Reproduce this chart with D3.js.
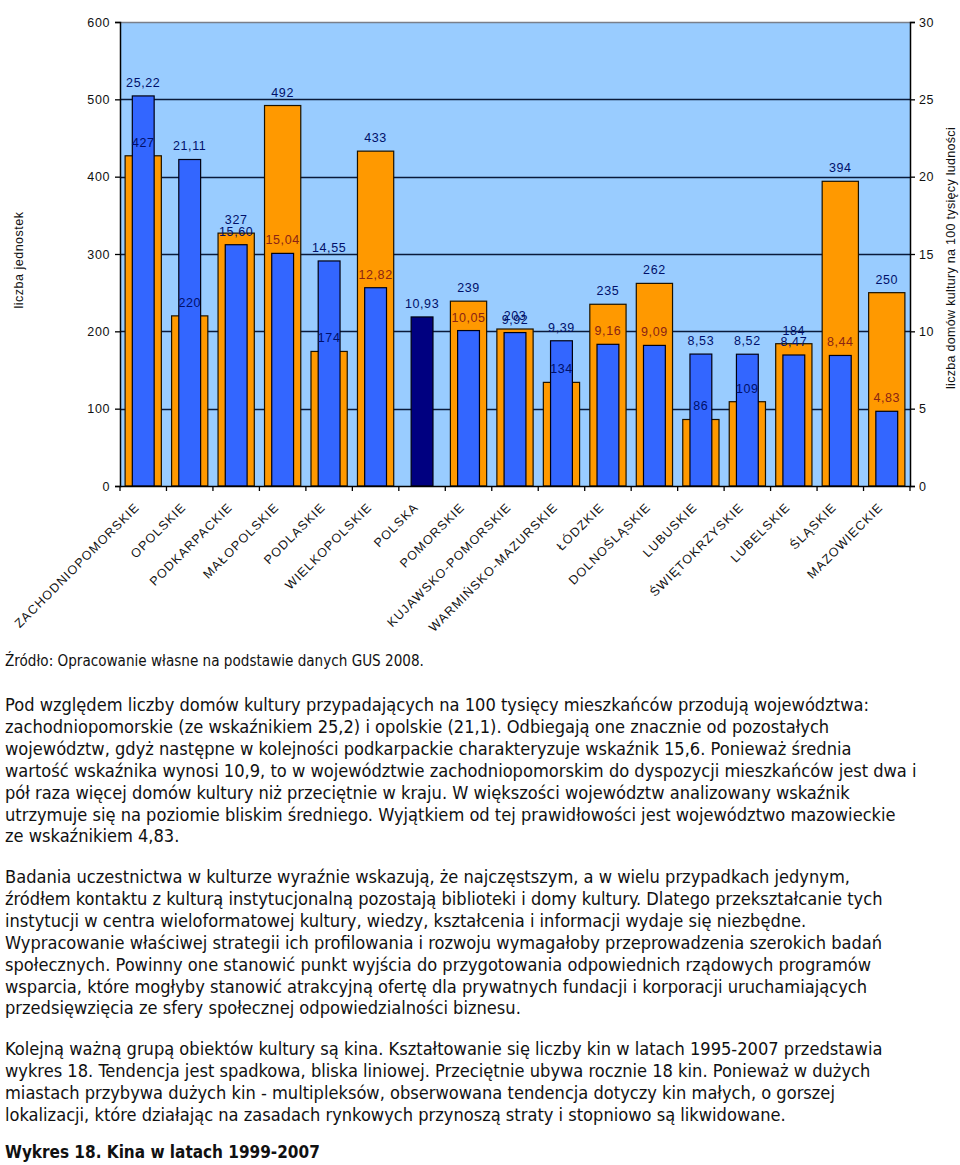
<!DOCTYPE html>
<html>
<head>
<meta charset="utf-8">
<script src="https://cdn.jsdelivr.net/npm/d3@7"></script>
<style>
  html, body { margin: 0; padding: 0; background: #fff; }
  svg { display: block; }
</style>
</head>
<body>
<svg id="chart" width="960" height="1165"></svg>
<script>
// ---------- DATA ----------
const categories = ["ZACHODNIOPOMORSKIE","OPOLSKIE","PODKARPACKIE","MAŁOPOLSKIE","PODLASKIE","WIELKOPOLSKIE","POLSKA","POMORSKIE","KUJAWSKO-POMORSKIE","WARMIŃSKO-MAZURSKIE","ŁÓDZKIE","DOLNOŚLĄSKIE","LUBUSKIE","ŚWIĘTOKRZYSKIE","LUBELSKIE","ŚLĄSKIE","MAZOWIECKIE"];
const unitCounts = [427, 220, 327, 492, 174, 433, null, 239, 203, 134, 235, 262, 86, 109, 184, 394, 250];
const perCapita = [25.22, 21.11, 15.60, 15.04, 14.55, 12.82, 10.93, 10.05, 9.92, 9.39, 9.16, 9.09, 8.53, 8.52, 8.47, 8.44, 4.83];
const leftTicks = [0, 100, 200, 300, 400, 500, 600];
const rightTicks = [0, 5, 10, 15, 20, 25, 30];
const leftTitle = "liczba jednostek";
const rightTitle = "liczba domów kultury na 100 tysięcy ludności";

const sourceLine = "Źródło: Opracowanie własne na podstawie danych GUS 2008.";
const para1 = [
  "Pod względem liczby domów kultury przypadających na 100 tysięcy mieszkańców przodują województwa:",
  "zachodniopomorskie (ze wskaźnikiem 25,2) i opolskie (21,1). Odbiegają one znacznie od pozostałych",
  "województw, gdyż następne w kolejności podkarpackie charakteryzuje wskaźnik 15,6. Ponieważ średnia",
  "wartość wskaźnika wynosi 10,9, to w województwie zachodniopomorskim do dyspozycji mieszkańców jest dwa i",
  "pół raza więcej domów kultury niż przeciętnie w kraju. W większości województw analizowany wskaźnik",
  "utrzymuje się na poziomie bliskim średniego. Wyjątkiem od tej prawidłowości jest województwo mazowieckie",
  "ze wskaźnikiem 4,83."
];
const para2 = [
  "Badania uczestnictwa w kulturze wyraźnie wskazują, że najczęstszym, a w wielu przypadkach jedynym,",
  "źródłem kontaktu z kulturą instytucjonalną pozostają biblioteki i domy kultury. Dlatego przekształcanie tych",
  "instytucji w centra wieloformatowej kultury, wiedzy, kształcenia i informacji wydaje się niezbędne.",
  "Wypracowanie właściwej strategii ich profilowania i rozwoju wymagałoby przeprowadzenia szerokich badań",
  "społecznych. Powinny one stanowić punkt wyjścia do przygotowania odpowiednich rządowych programów",
  "wsparcia, które mogłyby stanowić atrakcyjną ofertę dla prywatnych fundacji i korporacji uruchamiających",
  "przedsięwzięcia ze sfery społecznej odpowiedzialności biznesu."
];
const para3 = [
  "Kolejną ważną grupą obiektów kultury są kina. Kształtowanie się liczby kin w latach 1995-2007 przedstawia",
  "wykres 18. Tendencja jest spadkowa, bliska liniowej. Przeciętnie ubywa rocznie 18 kin. Ponieważ w dużych",
  "miastach przybywa dużych kin - multipleksów, obserwowana tendencja dotyczy kin małych, o gorszej",
  "lokalizacji, które działając na zasadach rynkowych przynoszą straty i stopniowo są likwidowane."
];
const nextTitle = "Wykres 18. Kina w latach 1999-2007";

// ---------- LAYOUT ----------
const svg = d3.select("#chart");
svg.append("rect").attr("width", 960).attr("height", 1165).attr("fill", "#fff");

const plot = { left: 120, right: 910, top: 22, bottom: 486 };
const x = d3.scaleBand().domain(categories).range([plot.left, plot.right]).padding(0);
const yL = d3.scaleLinear().domain([0, 600]).range([plot.bottom, plot.top]);
const yR = d3.scaleLinear().domain([0, 30]).range([plot.bottom, plot.top]);

const chartFont = "'Liberation Sans', Arial, sans-serif";
const labelColor = "#00106a";
const onOrangeColor = "#8a2414";

// Plot background
svg.append("rect")
  .attr("x", plot.left).attr("y", plot.top)
  .attr("width", plot.right - plot.left).attr("height", plot.bottom - plot.top)
  .attr("fill", "#99ccff");

// Gridlines
svg.append("g").selectAll("line")
  .data(leftTicks.filter(d => d > 0))
  .join("line")
  .attr("x1", plot.left).attr("x2", plot.right)
  .attr("y1", d => Math.round(yL(d)) + 0.5).attr("y2", d => Math.round(yL(d)) + 0.5)
  .attr("stroke", d => d === 600 ? "#7a7f8a" : "#0a1a3a")
  .attr("stroke-width", 1.3);

const bw = x.bandwidth();
const cx = d => x(d) + bw / 2;

// Orange bars (counts, left axis)
const orangeData = categories.map((c, i) => ({ c, v: unitCounts[i] })).filter(d => d.v != null);
svg.append("g").selectAll("rect")
  .data(orangeData)
  .join("rect")
  .attr("x", d => cx(d.c) - bw * 0.39)
  .attr("width", bw * 0.78)
  .attr("y", d => yL(d.v))
  .attr("height", d => yL(0) - yL(d.v))
  .attr("fill", "#ff9900")
  .attr("stroke", "#1a1200")
  .attr("stroke-width", 1.2);

// Blue bars (per 100k, right axis)
const blueData = categories.map((c, i) => ({ c, v: perCapita[i], o: unitCounts[i] }));
svg.append("g").selectAll("rect")
  .data(blueData)
  .join("rect")
  .attr("x", d => cx(d.c) - bw * 0.235)
  .attr("width", bw * 0.47)
  .attr("y", d => yR(d.v))
  .attr("height", d => yR(0) - yR(d.v))
  .attr("fill", d => d.c === "POLSKA" ? "#000080" : "#3366ff")
  .attr("stroke", "#000010")
  .attr("stroke-width", 1.2);

// Axes
const leftAxis = d3.axisLeft(yL).tickValues(leftTicks).tickSize(5).tickFormat(d3.format("d"));
const gL = svg.append("g").attr("transform", `translate(${plot.left},0)`).call(leftAxis);
const rightAxis = d3.axisRight(yR).tickValues(rightTicks).tickSize(5).tickFormat(d3.format("d"));
const gR = svg.append("g").attr("transform", `translate(${plot.right},0)`).call(rightAxis);
const bottomAxis = d3.axisBottom(x).tickSize(0).tickFormat("");
const gB = svg.append("g").attr("transform", `translate(0,${plot.bottom})`).call(bottomAxis);
[gL, gR, gB].forEach(g => {
  g.select(".domain").attr("stroke", "#000").attr("stroke-width", 1.5);
  g.selectAll(".tick line").attr("stroke", "#000").attr("stroke-width", 1.3);
  g.selectAll(".tick text").attr("font-family", chartFont).attr("font-size", 12.5)
    .attr("fill", "#111").attr("letter-spacing", 0.6);
});
gL.selectAll(".tick text").attr("x", -10);
gR.selectAll(".tick text").attr("x", 9);
gB.select(".domain").remove();

// x-axis baseline and boundary ticks
svg.append("line").attr("x1", plot.left).attr("x2", plot.right)
  .attr("y1", plot.bottom + 0.5).attr("y2", plot.bottom + 0.5).attr("stroke", "#000").attr("stroke-width", 1.5);
const bounds = categories.map(c => x(c)).concat([plot.right]);
svg.append("g").selectAll("line").data(bounds).join("line")
  .attr("x1", d => d).attr("x2", d => d)
  .attr("y1", plot.bottom).attr("y2", plot.bottom + 5)
  .attr("stroke", "#000").attr("stroke-width", 1.3);

// Category labels rotated -45
svg.append("g").selectAll("text")
  .data(categories)
  .join("text")
  .attr("transform", d => `translate(${cx(d) - 3},${plot.bottom + 22}) rotate(-45)`)
  .attr("text-anchor", "end")
  .attr("font-family", chartFont)
  .attr("font-size", 12.5)
  .attr("letter-spacing", 1.1)
  .attr("fill", "#111")
  .text(d => d);

// Value labels
const fmt2 = v => v.toFixed(2).replace(".", ",");
svg.append("g").selectAll("text")
  .data(orangeData)
  .join("text")
  .attr("x", d => cx(d.c))
  .attr("y", d => yL(d.v) - 9)
  .attr("text-anchor", "middle")
  .attr("font-family", chartFont).attr("font-size", 12.5).attr("letter-spacing", 0.6)
  .attr("fill", labelColor)
  .text(d => d.v);

svg.append("g").selectAll("text")
  .data(blueData)
  .join("text")
  .attr("x", d => cx(d.c))
  .attr("y", d => yR(d.v) - 9)
  .attr("text-anchor", "middle")
  .attr("font-family", chartFont).attr("font-size", 12.5).attr("letter-spacing", 0.6)
  .attr("fill", d => (d.o != null && yL(d.o) < yR(d.v) - 22) ? onOrangeColor : labelColor)
  .text(d => fmt2(d.v));

// Axis titles
svg.append("text")
  .attr("transform", `translate(23,${(plot.top + plot.bottom) / 2 + 6}) rotate(-90)`)
  .attr("text-anchor", "middle")
  .attr("font-family", chartFont).attr("font-size", 12.5).attr("letter-spacing", 0.5)
  .attr("fill", "#111")
  .text(leftTitle);
svg.append("text")
  .attr("transform", `translate(955,${(plot.top + plot.bottom) / 2 + 4}) rotate(-90)`)
  .attr("text-anchor", "middle")
  .attr("font-family", chartFont).attr("font-size", 12.5).attr("letter-spacing", 0.3)
  .attr("fill", "#111")
  .text(rightTitle);

// ---------- TEXT BELOW ----------
const bodyFont = "'DejaVu Sans Condensed', 'DejaVu Sans', sans-serif";
const lineH = 21.9;
svg.append("text")
  .attr("x", 5).attr("y", 666)
  .attr("font-family", bodyFont).attr("font-stretch", "condensed").attr("font-size", 15.1)
  .attr("fill", "#111")
  .text(sourceLine);

function block(lines, y0) {
  svg.append("g").selectAll("text")
    .data(lines)
    .join("text")
    .attr("x", 5)
    .attr("y", (d, i) => y0 + i * lineH)
    .attr("font-family", bodyFont).attr("font-stretch", "condensed").attr("font-size", 18.1)
    .attr("fill", "#111")
    .text(d => d);
}
block(para1, 711);
block(para2, 883);
block(para3, 1055);
svg.append("text")
  .attr("x", 5).attr("y", 1158)
  .attr("font-family", bodyFont).attr("font-stretch", "condensed").attr("font-size", 17)
  .attr("font-weight", "bold")
  .attr("fill", "#111")
  .text(nextTitle);
</script>
</body>
</html>
